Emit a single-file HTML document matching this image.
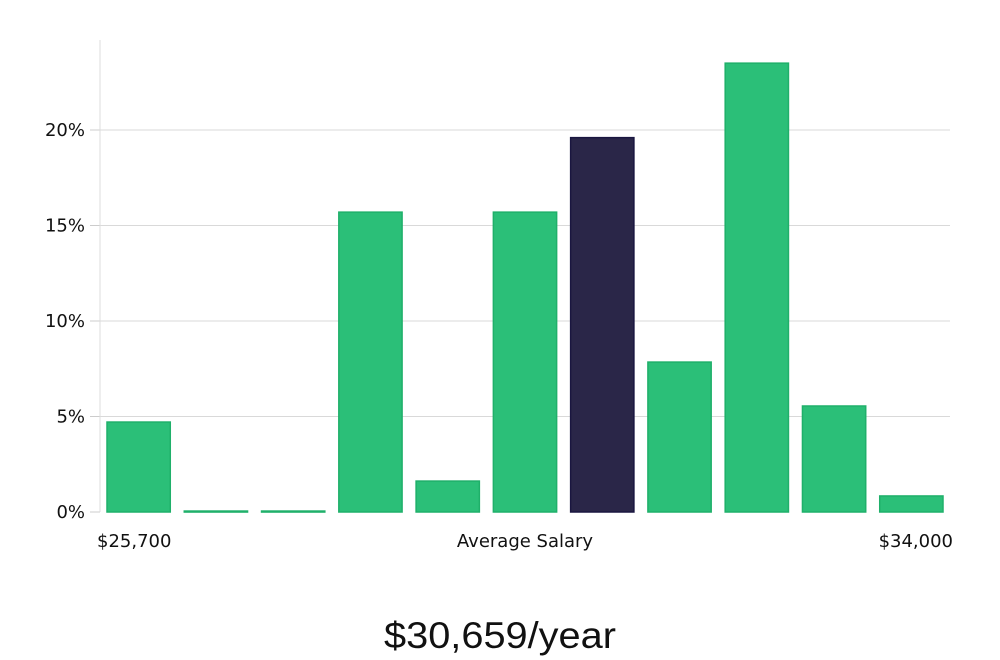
<!DOCTYPE html>
<html><head><meta charset="utf-8"><style>
body{margin:0;background:#fff;width:1000px;height:660px;overflow:hidden}
svg{display:block;font-family:"DejaVu Sans","Liberation Sans",sans-serif}
</style></head><body>
<svg id="chart" width="1000" height="660" viewBox="0 0 1000 660">
<g id="grid"></g>
<g id="bars"></g>
<g id="yaxis"></g>
<text x="97" y="547" font-size="18" fill="#111">$25,700</text>
<text x="525" y="547" font-size="18" fill="#111" text-anchor="middle">Average Salary</text>
<text x="953" y="547" font-size="18" fill="#111" text-anchor="end">$34,000</text>
<text x="500" y="648" font-size="37" fill="#111" text-anchor="middle" font-family="Liberation Sans, sans-serif" textLength="232" lengthAdjust="spacingAndGlyphs">$30,659/year</text>
</svg>
<script>
const values=[4.71,0.05,0.05,15.7,1.62,15.7,19.6,7.85,23.5,5.55,0.84];
const highlightIndex=6;
const yTicks=[0,5,10,15,20];
const tickLabels=["0%","5%","10%","15%","20%"];
const NS="http://www.w3.org/2000/svg";
const x0=100,x1=950,yBase=512,pxPer=19.1;
const y=v=>yBase-v*pxPer;
const band=(x1-x0)/values.length;
const grid=document.getElementById('grid'),yaxis=document.getElementById('yaxis'),bars=document.getElementById('bars');
function mk(t,a,p){const e=document.createElementNS(NS,t);for(const k in a)e.setAttribute(k,a[k]);p.appendChild(e);return e;}
yTicks.forEach((t,i)=>{
  if(t>0){const g=mk('line',{x1:90,x2:x1,y1:y(t),y2:y(t),stroke:'#d9d9d9','stroke-width':1},grid);
  
  }
  const tk=mk('line',{x1:90,x2:100,y1:y(t),y2:y(t),stroke:'#ccc'},yaxis);
  
  
  const tx=mk('text',{x:85,y:y(t)+6,'font-size':18,fill:'#111','text-anchor':'end'},yaxis);
  tx.textContent=tickLabels[i];
  
  
});
const ax=mk('line',{x1:x0,x2:x0,y1:40,y2:yBase,stroke:'#ddd'},yaxis);


values.forEach((v,i)=>{
  const hi=i===highlightIndex;
  const r=mk('rect',{x:x0+i*band+7,y:y(v),width:band-14,height:Math.max(v*pxPer,1),fill:hi?'#2a2648':'#2bbf78',stroke:hi?'#1a1640':'#1fb06a','stroke-width':1.5},bars);
  
  
});
</script>
</body></html>
